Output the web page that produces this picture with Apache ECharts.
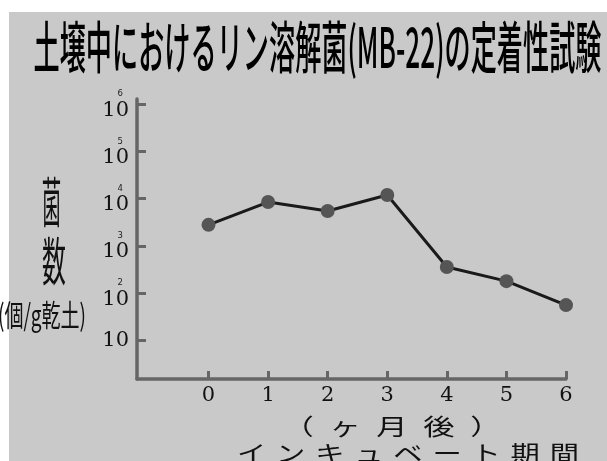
<!DOCTYPE html>
<html>
<head>
<meta charset="utf-8">
<style>
  html, body { margin: 0; padding: 0; background: #ffffff; }
  #chart { width: 607px; height: 461px; }
</style>
<script src="https://cdn.jsdelivr.net/npm/echarts@6/dist/echarts.min.js"></script>
</head>
<body>
<div id="chart"></div>
<script>
// Incubation period (months after inoculation)
const months = [0, 1, 2, 3, 4, 5, 6];
// Viable count of phosphate-solubilizing strain MB-22 (cells per g dry soil)
const cfuPerGram = [2800, 8500, 5500, 12000, 360, 180, 56];
// Log-axis tick positions (10 .. 10^6)
const yTickValues = [10, 100, 1000, 10000, 100000, 1000000];

const titleText = '土壌中におけるリン溶解菌(MB-22)の定着性試験';
const yNameChars = ['菌', '数'];
const yUnitText = '(個/g乾土)';
const xNameLine1 = '（ヶ月後）';
const xNameLine2 = 'インキュベート期間';

const JP = '"Noto Sans CJK JP", "Noto Sans", sans-serif';
const SERIF = '"DejaVu Serif", "Liberation Serif", serif';

// Horizontal scale factor that squeezes a string to a given width
function fitScaleX(text, fontSize, fontWeight, family, targetWidth) {
  const ctx = document.createElement('canvas').getContext('2d');
  ctx.font = fontWeight + ' ' + fontSize + 'px ' + family;
  return targetWidth / ctx.measureText(text).width;
}

const chart = echarts.init(document.getElementById('chart'), null, { renderer: 'canvas' });

const titleSize = 56;
const titleScale = fitScaleX(titleText, titleSize, '500', JP, 568);
const unitSize = 30;
const unitScale = fitScaleX(yUnitText, unitSize, 'normal', JP, 88);

const xName1 = xNameLine1.split('').join('\u2002');
const xName1Size = 30;
const xName1Scale = fitScaleX(xName1, xName1Size, 'normal', JP, 198 + 0.7 * xName1Size);
const xName2 = xNameLine2.split('').join('\u2004');
const xName2Size = 28;
const xName2Scale = fitScaleX(xName2, xName2Size, 'normal', JP, 342);

const option = {
  animation: false,
  backgroundColor: 'transparent',
  grid: { left: 137, right: 41, top: 99, bottom: 82, containLabel: false },
  xAxis: {
    type: 'value',
    min: -1.2,
    max: 6,
    axisLine: { show: true, lineStyle: { color: '#666666', width: 3.5 } },
    axisTick: {
      show: true, inside: true, length: 8,
      customValues: months,
      lineStyle: { color: '#666666', width: 3 }
    },
    axisLabel: {
      customValues: months,
      margin: 6,
      color: '#111111',
      fontFamily: SERIF,
      fontSize: 21
    },
    splitLine: { show: false }
  },
  yAxis: {
    type: 'log',
    logBase: 10,
    min: 1.53,
    max: 1288000,
    axisLine: { show: true, onZero: false, lineStyle: { color: '#666666', width: 3.5 } },
    axisTick: {
      show: true, inside: true, length: 9,
      customValues: yTickValues,
      lineStyle: { color: '#666666', width: 3 }
    },
    axisLabel: {
      customValues: yTickValues,
      margin: 8,
      formatter: function (v) {
        const e = Math.round(Math.log10(v));
        return e === 1 ? '{b|10}' : '{s|' + e + '}\n{b|10}';
      },
      rich: {
        b: { fontFamily: SERIF, fontSize: 21, lineHeight: 20, color: '#111111' },
        s: { fontFamily: '"DejaVu Sans", sans-serif', fontSize: 8.5, lineHeight: 12,
             color: '#222222', align: 'right', padding: [0, 6, 0, 0] }
      }
    },
    splitLine: { show: false }
  },
  graphic: {
    elements: [
      {
        type: 'rect', z: -100, silent: true,
        shape: { x: 9, y: 12, width: 598, height: 449 },
        style: { fill: '#c9c9c9' }
      },
      {
        type: 'text', x: 33.5, y: 47, scaleX: titleScale, z: 10,
        style: {
          text: titleText, fontFamily: JP, fontSize: titleSize, fontWeight: 500,
          fill: '#000000', align: 'left', verticalAlign: 'middle'
        }
      },
      {
        type: 'text', x: 51.5, y: 202, scaleX: 0.36, z: 10,
        style: {
          text: yNameChars[0], fontFamily: JP, fontSize: 54, fontWeight: 'normal',
          fill: '#111111', align: 'center', verticalAlign: 'middle'
        }
      },
      {
        type: 'text', x: 54, y: 261, scaleX: 0.46, z: 10,
        style: {
          text: yNameChars[1], fontFamily: JP, fontSize: 52, fontWeight: 'normal',
          fill: '#111111', align: 'center', verticalAlign: 'middle'
        }
      },
      {
        type: 'text', x: 42, y: 315, scaleX: unitScale, z: 10,
        style: {
          text: yUnitText, fontFamily: JP, fontSize: unitSize, fontWeight: 'normal',
          fill: '#111111', align: 'center', verticalAlign: 'middle'
        }
      },
      {
        type: 'text', x: 392, y: 426, scaleX: xName1Scale, scaleY: 0.75, z: 10,
        style: {
          text: xName1, fontFamily: JP, fontSize: xName1Size,
          fill: '#111111', align: 'center', verticalAlign: 'middle'
        }
      },
      {
        type: 'text', x: 408, y: 453, scaleX: xName2Scale, scaleY: 0.78, z: 10,
        style: {
          text: xName2, fontFamily: JP, fontSize: xName2Size,
          fill: '#111111', align: 'center', verticalAlign: 'middle'
        }
      }
    ]
  },
  series: [
    {
      type: 'line',
      data: months.map((m, i) => [m, cfuPerGram[i]]),
      symbol: 'circle',
      symbolSize: 14,
      lineStyle: { color: '#1a1a1a', width: 3 },
      itemStyle: { color: '#555555' },
      z: 5
    }
  ]
};

chart.setOption(option);
</script>
</body>
</html>
